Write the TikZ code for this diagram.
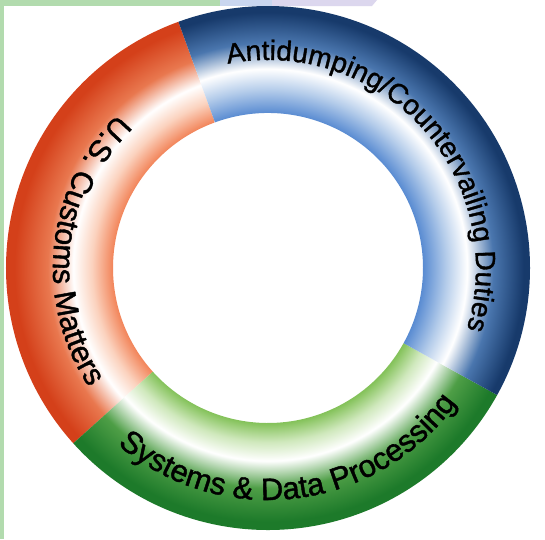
\documentclass[tikz,border=0pt]{standalone}
\usepackage{fontspec}
\usepackage{tikz}
\usetikzlibrary{decorations.text}

\newfontfamily\ringfont[FakeBold=1.3]{Liberation Sans}

\definecolor{blueout}{HTML}{173A6B}
\definecolor{bluemid}{HTML}{4A76AE}
\definecolor{bluelt}{HTML}{B4CCEA}
\definecolor{bluein}{HTML}{5A8CD2}
\definecolor{orangeout}{HTML}{D4401A}
\definecolor{orangemid}{HTML}{E9784F}
\definecolor{orangelt}{HTML}{FBD2BE}
\definecolor{orangein}{HTML}{F28459}
\definecolor{greenout}{HTML}{1D7A2A}
\definecolor{greenmid}{HTML}{4E9E46}
\definecolor{greenlt}{HTML}{CFE8BC}
\definecolor{greenin}{HTML}{84C25A}
\definecolor{stripgreen}{HTML}{B2DBAE}
\definecolor{stripblue}{HTML}{C9D6EF}
\definecolor{striplav}{HTML}{DCD7EE}

\pgfdeclareradialshading{bluering}{\pgfpoint{0bp}{0bp}}{color(0bp)=(bluein); color(14.8bp)=(bluein); color(17bp)=(bluelt); color(19bp)=(white); color(21.5bp)=(bluemid); color(24.4bp)=(blueout); color(50bp)=(blueout)}
\pgfdeclareradialshading{orangering}{\pgfpoint{0bp}{0bp}}{color(0bp)=(orangein); color(14.8bp)=(orangein); color(16.8bp)=(orangelt); color(18.6bp)=(white); color(21bp)=(orangemid); color(24.2bp)=(orangeout); color(50bp)=(orangeout)}
\pgfdeclareradialshading{greenring}{\pgfpoint{0bp}{0bp}}{color(0bp)=(greenin); color(14.8bp)=(greenin); color(16.6bp)=(greenlt); color(18.4bp)=(white); color(21bp)=(greenmid); color(24.2bp)=(greenout); color(50bp)=(greenout)}

\begin{document}
\begin{tikzpicture}[x=1pt,y=1pt,
        ringtext/.style 2 args={decorate,decoration={text along path,text align=center,
          text={|\ringfont\fontsize{#1}{#1}\selectfont|#2}}}]

  \useasboundingbox (-268,-271) rectangle (277,268);
  \fill[white] (-268,-271) rectangle (277,268);

  % frame strips
  \fill[stripgreen] (-268,268) rectangle (-264,-271);
  \fill[stripgreen] (-268,268) rectangle (-48,262);
  \fill[stripblue]  (-48,268) rectangle (4,262);
  \fill[striplav]   (4,268) -- (109,268) -- (104,262) -- (4,262) -- cycle;

  \coordinate (c) at (0,0);

  % ring segments
  \foreach \a/\b/\s in {110/222/orangering, 222/331/greenring, -29/110/bluering}{
    \begin{scope}
      \clip (\a:262pt) arc[start angle=\a,end angle=\b,radius=262pt]
            -- (\b:155pt) arc[start angle=\b,end angle=\a,radius=155pt] -- cycle;
      \shade[shading=\s] (c) circle[radius=262pt];
    \end{scope}
  }

  % labels
  \path[ringtext={28}{Antidumping/Countervailing Duties}]
    (c) ++(111:208pt) arc[start angle=111,end angle=-27,radius=208pt];
  \path[ringtext={30.5}{U.S. Customs Matters}]
    (c) ++(120:215pt) arc[start angle=120,end angle=228,radius=215pt];
  \path[ringtext={31}{Systems {\&} Data Processing}]
    (c) ++(222:232pt) arc[start angle=222,end angle=332,radius=232pt];

\end{tikzpicture}
\end{document}
